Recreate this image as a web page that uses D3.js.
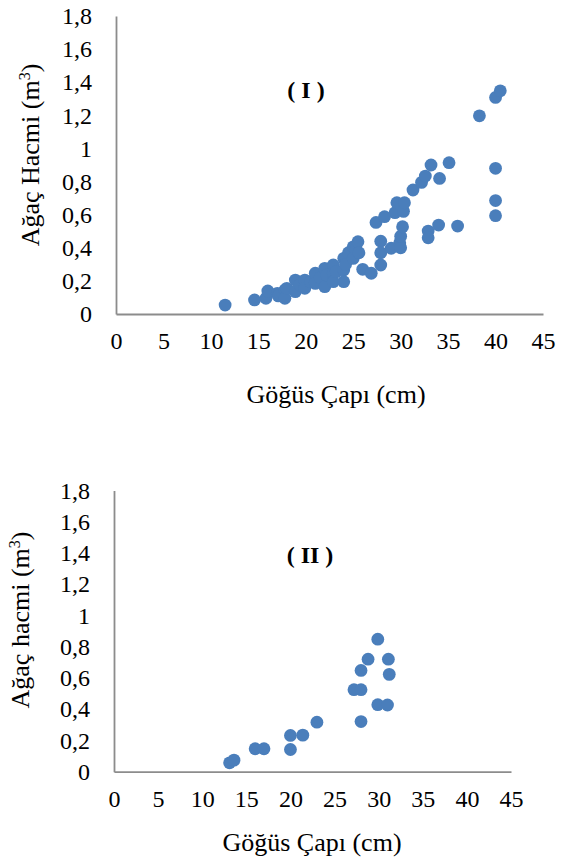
<!DOCTYPE html>
<html>
<head>
<meta charset="utf-8">
<script src="https://cdnjs.cloudflare.com/ajax/libs/d3/7.8.5/d3.min.js"></script>
<style>
  body { margin: 0; background: #fff; }
  text { font-family: "Liberation Serif", "Times New Roman", serif; fill: #000; }
</style>
</head>
<body>
<script>
// tick values (x = göğüs çapı, y = ağaç hacmi)
var xTicks = [0, 5, 10, 15, 20, 25, 30, 35, 40, 45];
var yTicks = [0, 0.2, 0.4, 0.6, 0.8, 1, 1.2, 1.4, 1.6, 1.8];

// panel I
var diameterI = [11.5, 14.6, 15.8, 16.0, 17.0, 17.1, 17.8, 17.8, 18.0, 18.9, 18.9, 19.4, 19.9, 19.9,
  20.5, 21.0, 21.0, 21.5, 22.0, 22.0, 22.2, 22.9, 22.9, 22.9, 23.2, 24.0, 24.0, 24.0, 24.2, 24.5,
  25.0, 25.0, 25.3, 25.5, 25.6, 26.0, 26.9, 27.4, 27.9, 27.9, 27.9, 28.3, 29.0, 29.4, 29.6, 29.9,
  30.0, 30.0, 30.2, 30.3, 30.4, 31.3, 32.2, 32.6, 32.9, 32.9, 33.2, 34.0, 34.1, 35.1, 36.0, 38.3,
  40.0, 40.0, 40.0, 40.0, 40.5];
var volumeI = [0.054, 0.085, 0.095, 0.139, 0.125, 0.109, 0.145, 0.095, 0.155, 0.205, 0.135, 0.175, 0.205, 0.155,
  0.195, 0.246, 0.185, 0.22, 0.276, 0.165, 0.235, 0.296, 0.246, 0.195, 0.256, 0.336, 0.266, 0.195, 0.30, 0.37,
  0.406, 0.336, 0.39, 0.437, 0.37, 0.27, 0.246, 0.553, 0.44, 0.37, 0.296, 0.588, 0.397, 0.612, 0.672, 0.43,
  0.40, 0.47, 0.527, 0.62, 0.672, 0.749, 0.795, 0.833, 0.501, 0.46, 0.90, 0.537, 0.819, 0.914, 0.531, 1.197,
  1.308, 0.88, 0.685, 0.594, 1.348];

// panel II
var diameterII = [13.1, 13.6, 16.0, 17.0, 20.0, 20.0, 21.4, 23.0, 27.2, 28.0, 28.0, 28.0, 28.8, 29.9, 29.9, 31.0, 31.1, 31.2];
var volumeII = [0.057, 0.074, 0.147, 0.147, 0.142, 0.232, 0.234, 0.317, 0.525, 0.525, 0.648, 0.321, 0.72, 0.848, 0.429, 0.427, 0.72, 0.623];

var fmt = function (v) { return String(v).replace('.', ','); };

var svg = d3.select('body').append('svg')
  .attr('width', 565)
  .attr('height', 859);

function drawPanel(opt) {
  var x = d3.scaleLinear().domain([0, 45]).range([opt.left, opt.right]);
  var y = d3.scaleLinear().domain([0, 1.8]).range([opt.bottom, opt.top]);
  var g = svg.append('g');

  // axes lines only, no tick marks
  var yAxis = g.append('g')
    .attr('transform', 'translate(' + opt.left + ',0)')
    .call(d3.axisLeft(y).tickValues(yTicks).tickSize(0).tickPadding(24).tickFormat(fmt));
  var xAxis = g.append('g')
    .attr('transform', 'translate(0,' + opt.bottom + ')')
    .call(d3.axisBottom(x).tickValues(xTicks).tickSize(0).tickPadding(21).tickFormat(fmt));

  g.selectAll('.domain').style('stroke', '#8c8c8c').style('stroke-width', '1.8px');
  g.selectAll('.tick text')
    .style('font-family', '"Liberation Serif", serif')
    .style('font-size', '24px')
    .style('fill', '#000');
  xAxis.selectAll('.tick text').attr('dy', '0.6em');

  // points
  g.selectAll('circle')
    .data(opt.xs)
    .enter().append('circle')
    .attr('cx', function (d) { return x(d); })
    .attr('cy', function (d, i) { return y(opt.ys[i]); })
    .attr('r', 6.4)
    .style('fill', '#4a7ebb');

  // panel label
  g.append('text')
    .attr('x', opt.labelX)
    .attr('y', opt.labelY)
    .attr('text-anchor', 'middle')
    .style('font-size', '24px')
    .style('font-weight', 'bold')
    .text(opt.label);

  // x title
  g.append('text')
    .attr('x', opt.xTitleX)
    .attr('y', opt.xTitleY)
    .attr('text-anchor', 'middle')
    .style('font-size', '26px')
    .text('Göğüs Çapı (cm)');

  // y title with superscript
  var yt = g.append('text')
    .attr('transform', 'translate(' + opt.yTitleX + ',' + opt.yTitleY + ') rotate(-90)')
    .attr('text-anchor', 'middle')
    .style('font-size', '26px');
  yt.append('tspan').text(opt.yTitle + ' (m');
  yt.append('tspan').attr('dy', -9).style('font-size', '16px').text('3');
  yt.append('tspan').attr('dy', 9).text(')');
}

drawPanel({
  left: 116, right: 543, top: 16, bottom: 314,
  xs: diameterI, ys: volumeI,
  label: '( I )', labelX: 306, labelY: 98,
  xTitleX: 336, xTitleY: 403,
  yTitle: 'Ağaç Hacmi', yTitleX: 39, yTitleY: 155
});

drawPanel({
  left: 114, right: 511, top: 490.5, bottom: 771.7,
  xs: diameterII, ys: volumeII,
  label: '( II )', labelX: 310, labelY: 563,
  xTitleX: 312, xTitleY: 851,
  yTitle: 'Ağaç hacmi', yTitleX: 29, yTitleY: 620
});
</script>
</body>
</html>
